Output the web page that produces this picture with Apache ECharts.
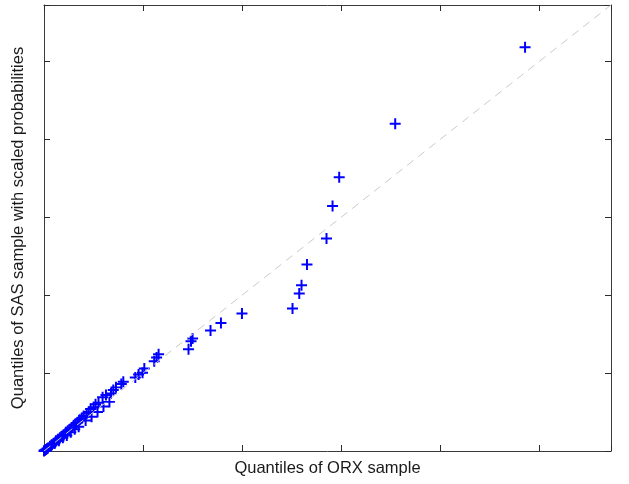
<!DOCTYPE html>
<html>
<head>
<meta charset="utf-8">
<script src="https://cdn.jsdelivr.net/npm/echarts@6/dist/echarts.min.js"></script>
<style>
html,body{margin:0;padding:0;background:#fff;}
#chart{width:629px;height:484px;}
</style>
</head>
<body>
<div id="chart"></div>
<script>
// Quantile pairs (ORX sample quantile, SAS sample quantile with scaled probabilities)
const orxQuantiles = [
  0, 0.005, 0.01, 0.02, 0.03, 0.04, 0.06, 0.08, 0.1, 0.12, 0.14, 0.16, 0.18, 0.2,
  0.22, 0.24, 0.26, 0.28, 0.3, 0.32, 0.34, 0.36, 0.38, 0.4, 0.43, 0.45, 0.47, 0.5,
  0.52, 0.55, 0.591, 0.625, 0.676, 0.699, 0.726, 0.78, 0.8, 0.921, 0.954, 0.994,
  1.012, 1.112, 1.136, 1.156, 1.458, 1.483, 1.499, 1.68, 1.785, 1.997, 2.507,
  2.575, 2.598, 2.653, 2.85, 2.911, 2.978, 3.543, 4.853,
  0.07, 0.11, 0.15, 0.19, 0.23, 0.27, 0.31, 0.35, 0.42, 0.48, 0.54, 0.6, 0.66
];
const sasQuantiles = [
  0, 0.005, 0.01, 0.02, 0.03, 0.04, 0.06, 0.08, 0.1, 0.13, 0.15, 0.17, 0.19, 0.21,
  0.24, 0.26, 0.28, 0.3, 0.33, 0.35, 0.37, 0.4, 0.42, 0.45, 0.48, 0.5, 0.54, 0.56,
  0.6, 0.62, 0.688, 0.717, 0.739, 0.781, 0.816, 0.858, 0.887, 0.944, 0.982, 1.003,
  1.059, 1.152, 1.2, 1.242, 1.306, 1.409, 1.444, 1.546, 1.643, 1.763, 1.827,
  2.019, 2.125, 2.391, 2.724, 3.141, 3.512, 4.196, 5.177,
  0.06, 0.1, 0.13, 0.17, 0.2, 0.24, 0.28, 0.31, 0.39, 0.44, 0.5, 0.57, 0.63
];
// reference line y = x across the full axis range
const refLine = [0, 5.72];
const axisTicks = [0, 1, 2, 3, 4, 5];

const xLabel = 'Quantiles of ORX sample';
const yLabel = 'Quantiles of SAS sample with scaled probabilities';

const axisMax = refLine[1];
const tickStep = axisTicks[1] - axisTicks[0];

const points = orxQuantiles.map((v, i) => [v, sasQuantiles[i]]);
const lineData = refLine.map(v => [v, v]);

const plus = 'path://M0,4.1 H4.1 V0 H5.9 V4.1 H10 V5.9 H5.9 V10 H4.1 V5.9 H0 Z';
const frame = {show: true, onZero: false, lineStyle: {color: '#3a3a3a', width: 1}};
const tick = {show: true, inside: true, length: 6, lineStyle: {color: '#2a2a2a', width: 1}};
const nameFont = {fontFamily: 'Liberation Sans, Arial, sans-serif', fontSize: 16.5, color: '#1a1a1a'};

function mkAxis(pos, extra) {
  return Object.assign({
    type: 'value', position: pos, min: 0, max: axisMax, interval: tickStep,
    axisLine: frame, axisTick: tick, axisLabel: {show: false}, splitLine: {show: false}
  }, extra || {});
}

const chart = echarts.init(document.getElementById('chart'), null, {renderer: 'canvas'});
chart.setOption({
  animation: false,
  backgroundColor: '#ffffff',
  grid: {left: 44, right: 18, top: 5, bottom: 33, containLabel: false},
  xAxis: [
    mkAxis('bottom', {name: xLabel, nameLocation: 'middle', nameGap: 9, nameTextStyle: nameFont}),
    mkAxis('top')
  ],
  yAxis: [
    mkAxis('left', {name: yLabel, nameLocation: 'middle', nameGap: 17, nameTextStyle: nameFont}),
    mkAxis('right')
  ],
  series: [
    {
      type: 'line', data: lineData, xAxisIndex: 0, yAxisIndex: 0,
      symbol: 'none', silent: true,
      lineStyle: {color: '#cacaca', width: 1, type: [8, 6]}
    },
    {
      type: 'scatter', data: points, xAxisIndex: 0, yAxisIndex: 0,
      symbol: plus, symbolSize: 11,
      itemStyle: {color: '#0000ff', opacity: 1}
    }
  ]
});
</script>
</body>
</html>
